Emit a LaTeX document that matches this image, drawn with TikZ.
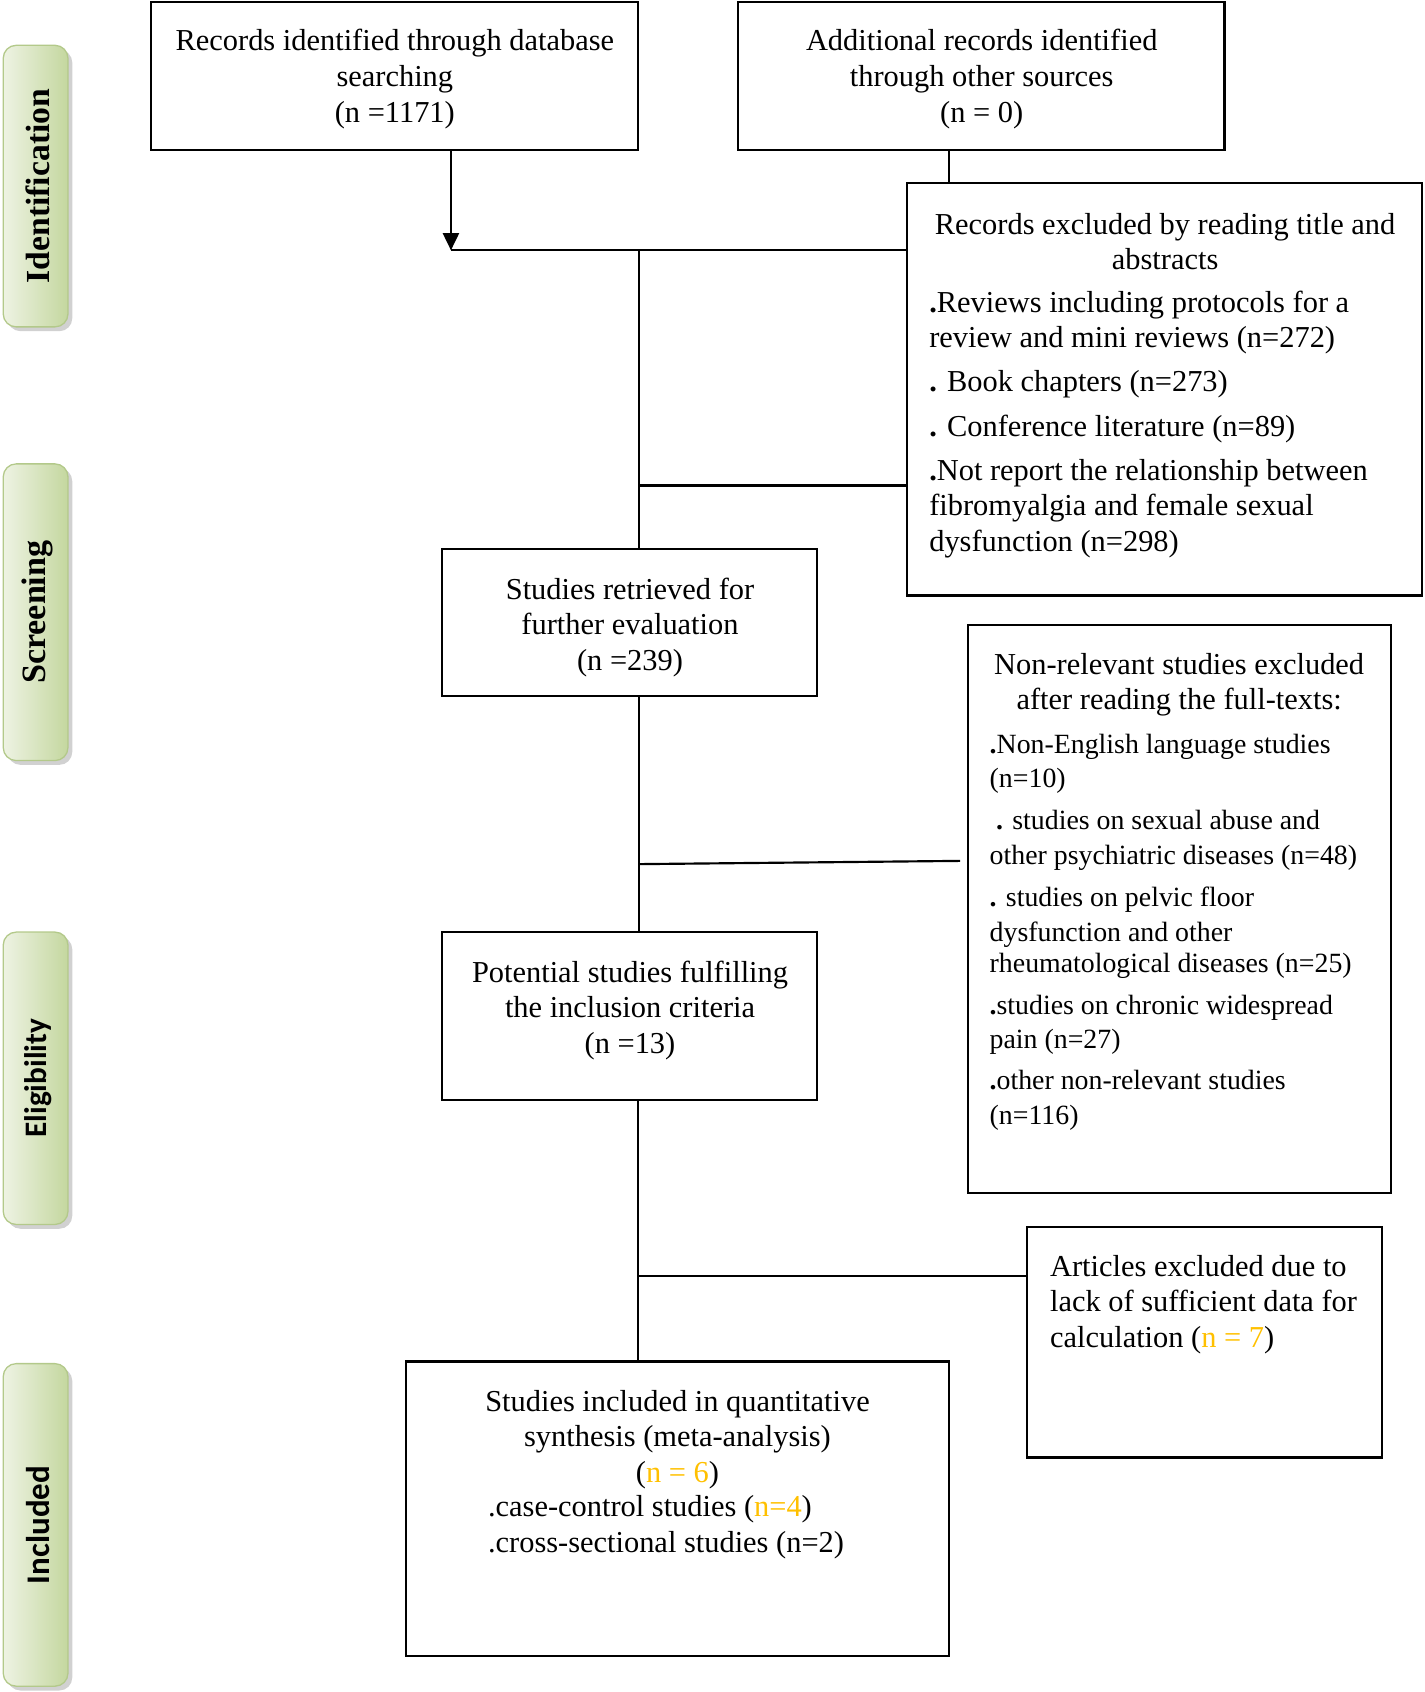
\documentclass[tikz,border=0pt]{standalone}
\usepackage{fontspec}
\setmainfont{Liberation Serif}
\newfontfamily\calib{Carlito}
\usetikzlibrary{fit,arrows.meta,shadows}
\definecolor{orng}{HTML}{FFC000}
\definecolor{glight}{HTML}{EEF3E3}
\definecolor{gdark}{HTML}{C4D79F}
\definecolor{gborder}{HTML}{B3C98A}
\begin{document}
\begin{tikzpicture}[x=0.5pt,y=-0.5pt,
  box/.style={draw=black, line width=1pt, inner sep=0pt},
  txt/.style={inner sep=0pt, font=\fontsize{14.1}{16.5}\selectfont},
  stxt/.style={inner sep=0pt, font=\fontsize{12.9}{16}\selectfont},
  phase/.style={draw=gborder, line width=0.6pt, rounded corners=6pt, inner sep=0pt,
    left color=glight, right color=gdark,
    drop shadow={shadow xshift=2pt, shadow yshift=-2pt, fill=black!30, opacity=0.6}},
  ptxt/.style={rotate=90, inner sep=0pt},
  conn/.style={line width=1pt},
  arr/.style={line width=1pt, -{Triangle[width=7.5pt,length=8pt]}}]
\useasboundingbox (0,0) rectangle (1320,1568.4);

% phase labels
\node[phase, fit={(3,42) (63,303)}] (p1) {};
\node[ptxt, font=\bfseries\fontsize{15.6}{15.6}\selectfont] (p1t) at ([xshift=1pt]p1.center) {Identification};
\node[phase, fit={(3,430) (63,705)}] (p2) {};
\node[ptxt, font=\bfseries\fontsize{15.8}{15.8}\selectfont] (p2t) at ([xshift=1pt]p2.center) {Screening};
\node[phase, fit={(3,864) (63,1135)}] (p3) {};
\node[ptxt, font=\calib\bfseries\fontsize{14.5}{14.5}\selectfont] (p3t) at ([xshift=1pt]p3.center) {Eligibility};
\node[phase, fit={(3,1264) (63,1563)}] (p4) {};
\node[ptxt, font=\calib\bfseries\fontsize{15.3}{15.3}\selectfont] (p4t) at ([xshift=1pt]p4.center) {Included};

% boxes
\node[box, fit={(140,2) (591,139)}] (A) {};
\node[box, fit={(684,2) (1135,139)}] (B) {};
\node[box, fit={(841,170) (1318,552)}] (C) {};
\node[box, fit={(410,509) (757,645)}] (D) {};
\node[box, fit={(897,579) (1289,1106)}] (F) {};
\node[box, fit={(410,864) (757,1020)}] (E) {};
\node[box, fit={(952,1137) (1281,1351)}] (G) {};
\node[box, fit={(376,1262) (880,1535)}] (H) {};

% texts
\node[txt, align=center, anchor=north] (At) at (366,27) {Records identified through database\\searching\\(n =1171)};
\node[txt, align=center, anchor=north] (Bt) at (910,27) {Additional records identified\\through other sources\\(n = 0)};
\node[txt, align=center, anchor=north] (Ct) at (1080,197) {Records excluded by reading title and\\abstracts};
\node[txt, align=left, anchor=north west] (Ci) at (861,269) {\textbf{.}Reviews including protocols for a\\review and mini reviews (n=272)\\[4pt]\textbf{.} Book chapters (n=273)\\[4pt]\textbf{.} Conference literature (n=89)\\[4pt]\textbf{.}Not report the relationship between\\fibromyalgia and female sexual\\dysfunction (n=298)};
\node[txt, align=center, anchor=north] (Dt) at (584,535) {Studies retrieved for\\further evaluation\\(n =239)};
\node[txt, align=center, anchor=north] (Ft) at (1093,605) {Non-relevant studies excluded\\after reading the full-texts:};
\node[stxt, align=left, anchor=north west] (Fi) at (917,680) {\textbf{.}Non-English language studies\\(n=10)\\[3.5pt]\hspace{3pt}\textbf{.} studies on sexual abuse and\\other psychiatric diseases (n=48)\\[3.5pt]\textbf{.} studies on pelvic floor\\dysfunction and other\\[-1.5pt]rheumatological diseases (n=25)\\[3.5pt]\textbf{.}studies on chronic widespread\\pain (n=27)\\[3pt]\textbf{.}other non-relevant studies\\(n=116)};
\node[txt, align=center, anchor=north] (Et) at (584,890) {Potential studies fulfilling\\the inclusion criteria\\(n =13)};
\node[txt, align=left, anchor=north west] (Gt) at (973,1163) {Articles excluded due to\\lack of sufficient data for\\calculation (\textcolor{orng}{n = 7})};
\node[txt, align=center, anchor=north] (Ht) at (628,1288) {Studies included in quantitative\\synthesis (meta-analysis)\\(\textcolor{orng}{n = 6})};
\node[txt, align=left, anchor=north west] (Hi) at (452,1386) {.case-control studies (\textcolor{orng}{n=4})\\.cross-sectional studies (n=2)};

% connectors
\coordinate (j1) at (418,232);
\coordinate (s1) at (592,232);
\coordinate (b1) at (592,450);
\coordinate (bx) at (880,150);
\coordinate (s2) at (592,801);
\coordinate (s2e) at (890,798);
\coordinate (s3) at (591,1183);
\draw[arr] (A.south -| j1) -- (j1);
\draw[conn] (j1) -- (j1 -| C.west);
\draw[conn] (B.south -| bx) -- (C.north -| bx);
\draw[conn] (s1) -- (s1 |- D.north);
\draw[conn] (b1) -- (b1 -| C.west);
\draw[conn] (s1 |- D.south) -- (s1 |- E.north);
\draw[conn] (s2) -- (s2e);
\draw[conn] (s3 |- E.south) -- (s3 |- H.north);
\draw[conn] (s3) -- (s3 -| G.west);
\end{tikzpicture}
\end{document}
